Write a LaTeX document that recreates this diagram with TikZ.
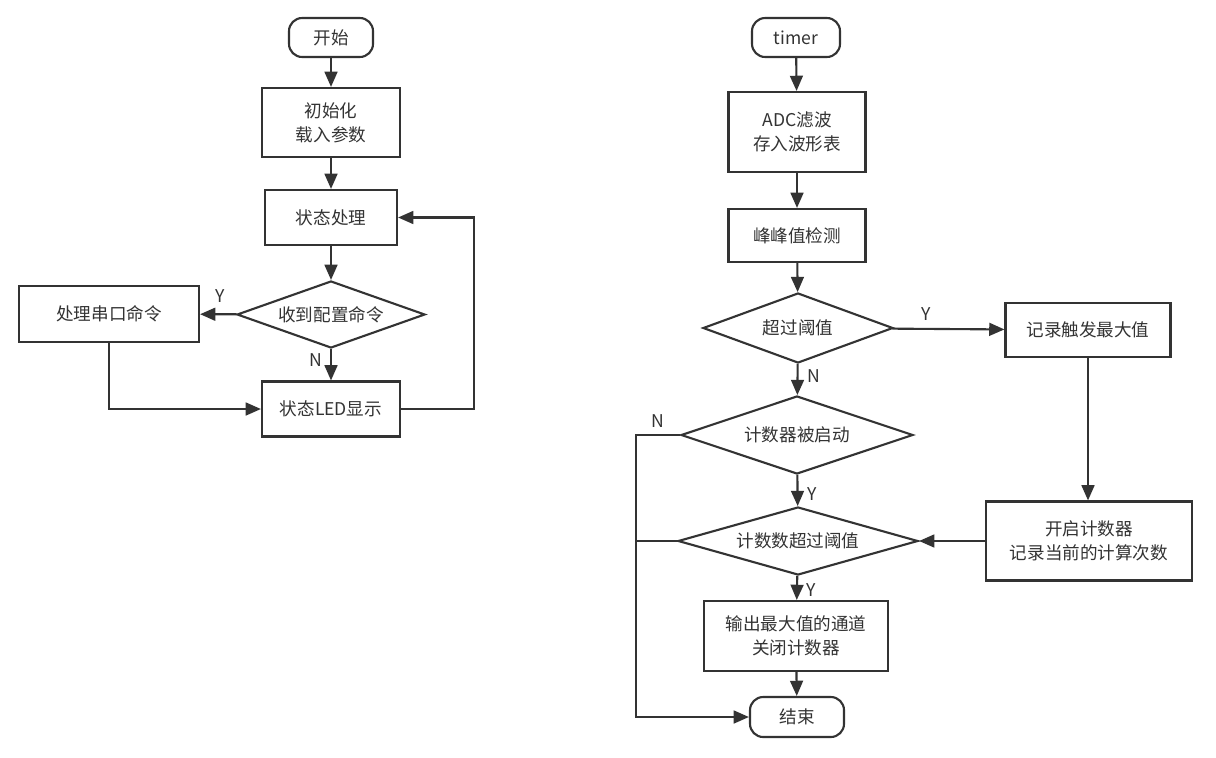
\documentclass[tikz,border=0pt]{standalone}
\usepackage{fontspec}
\newfontfamily\cjk{Noto Sans CJK SC}
\usetikzlibrary{shapes.geometric,arrows.meta}
\definecolor{ink}{HTML}{333333}

\begin{document}
\begin{tikzpicture}[x=0.025cm,y=-0.025cm,
  font=\cjk\fontsize{12.5}{17}\selectfont, text=ink,
  box/.style={draw=ink, line width=1.5pt, fill=white, align=center, inner sep=2pt},
  term/.style={box, rounded corners=0.33cm},
  decide/.style={draw=ink, line width=1.5pt, fill=white, diamond, aspect=2.8, inner sep=0pt, align=center},
  flow/.style={draw=ink, line width=1.5pt, -{Triangle[length=0.38cm,width=0.32cm]}},
  link/.style={draw=ink, line width=1.5pt}]
\useasboundingbox[fill=white] (0,0) rectangle (1216,757);

% main loop
\node[term, minimum width=2.1cm, minimum height=0.975cm] (start) at (331,37.5) {开始};
\node[box, minimum width=3.45cm, minimum height=1.725cm] (init) at (331,122.5) {初始化\\载入参数};
\node[box, minimum width=3.3cm, minimum height=1.375cm] (state) at (331,217.5) {状态处理};
\node[decide, minimum width=4.7cm, minimum height=1.675cm] (cfg) at (331,314.5) {收到配置命令};
\node[box, minimum width=4.5cm, minimum height=1.4cm] (uart) at (109,314) {处理串口命令};
\node[box, minimum width=3.45cm, minimum height=1.375cm] (led) at (331,409) {状态LED显示};

\draw[flow] (start) -- (init);
\draw[flow] (init) -- (state);
\draw[flow] (state) -- (cfg);
\draw[flow] (cfg) -- node[above=4pt, pos=0.45] {Y} (uart);
\draw[flow] (cfg) -- node[left=2pt, pos=0.35] {N} (led);
\draw[flow] (uart.south) |- (led.west);
\draw[flow] (led.east) -- ++(73,0) |- (state.east);

% timer interrupt
\node[term, minimum width=2.2cm, minimum height=0.975cm] (timer) at (796,37.5) {timer};
\node[box, minimum width=3.425cm, minimum height=2cm] (adc) at (797,132) {ADC滤波\\存入波形表};
\node[box, minimum width=3.425cm, minimum height=1.325cm] (peak) at (797,235.5) {峰峰值检测};
\node[decide, minimum width=4.75cm, minimum height=1.75cm] (thr) at (798,328) {超过阈值};
\node[box, minimum width=4.125cm, minimum height=1.35cm] (rec) at (1088,330) {记录触发最大值};
\node[decide, minimum width=5.8cm, minimum height=1.95cm] (cnt) at (797,435) {计数器被启动};
\node[decide, minimum width=6cm, minimum height=1.7cm] (over) at (798,541) {计数数超过阈值};
\node[box, minimum width=5.15cm, minimum height=1.975cm] (open) at (1089,541) {开启计数器\\记录当前的计算次数};
\node[box, minimum width=4.6cm, minimum height=1.75cm] (out) at (796,636) {输出最大值的通道\\关闭计数器};
\node[term, minimum width=2.35cm, minimum height=1cm] (end) at (797,717) {结束};
\coordinate (bypass) at (636,0);

\draw[flow] (timer) -- (adc);
\draw[flow] (adc) -- (peak);
\draw[flow] (peak) -- (thr);
\draw[flow] (thr) -- node[above=2pt, pos=0.3] {Y} (rec);
\draw[flow] (thr) -- node[right=3pt, pos=0.4] {N} (cnt);
\draw[flow] (cnt) -- node[right=3pt, pos=0.6] {Y} (over);
\draw[flow] (over) -- node[right=3pt, pos=0.6] {Y} (out);
\draw[flow] (out) -- (end);
\draw[flow] (rec.south) -- (rec.south |- open.north);
\draw[flow] (open) -- (over);
\draw[flow] (cnt.west) -- node[above=1pt] {N} (cnt.west -| bypass) |- (end.west);
\draw[link] (over.west) -- (over.west -| bypass);
\end{tikzpicture}
\end{document}
